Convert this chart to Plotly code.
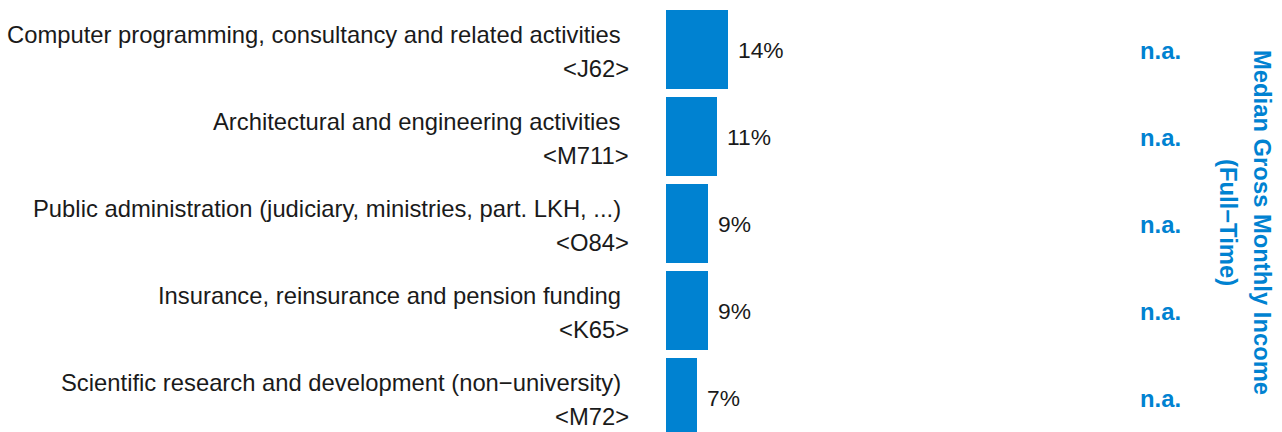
import plotly.graph_objects as go

categories = [
    "Computer programming, consultancy and related activities",
    "Architectural and engineering activities",
    "Public administration (judiciary, ministries, part. LKH, ...)",
    "Insurance, reinsurance and pension funding",
    "Scientific research and development (non\u2212university)",
]
codes = ["<J62>", "<M711>", "<O84>", "<K65>", "<M72>"]
shares = [13.8, 11.3, 9.3, 9.3, 6.9]
share_labels = ["14%", "11%", "9%", "9%", "7%"]
income_labels = ["n.a.", "n.a.", "n.a.", "n.a.", "n.a."]
income_title = ["Median Gross Monthly Income", "(Full\u2212Time)"]

BLUE = "#0082D1"
FONT = "Liberation Sans, Arial, Helvetica, sans-serif"
FS = 23.8
FSV = 22.8

W, H = 1282, 432
ML = 666
px_per_unit = 4.5
xmax = (W - ML) / px_per_unit

ycats = list(range(len(categories)))

fig = go.Figure()
fig.add_trace(go.Bar(
    x=shares, y=ycats, orientation="h",
    marker=dict(color=BLUE, line=dict(width=0)),
    width=0.908, hoverinfo="skip",
))

ann = []
for i, (cat, code, v, lab, inc) in enumerate(zip(categories, codes, shares, share_labels, income_labels)):
    ann.append(dict(x=0, y=i, xref="x", yref="y", text=cat, showarrow=False,
                    xanchor="right", yanchor="middle", xshift=-43, yshift=15,
                    font=dict(family=FONT, size=FS, color="#1a1a1a")))
    ann.append(dict(x=0, y=i, xref="x", yref="y", text=code, showarrow=False,
                    xanchor="right", yanchor="middle", xshift=-35, yshift=-19,
                    font=dict(family=FONT, size=FS, color="#1a1a1a")))
    ann.append(dict(x=v, y=i, xref="x", yref="y", text=lab, showarrow=False,
                    xanchor="left", yanchor="middle", xshift=8, yshift=0,
                    font=dict(family=FONT, size=FSV, color="#1a1a1a")))
    ann.append(dict(x=(1160 - ML) / (W - ML), y=i, xref="paper", yref="y", text="<b>" + inc + "</b>",
                    showarrow=False, xanchor="center", yanchor="middle", yshift=-1,
                    font=dict(family=FONT, size=FS, color=BLUE)))

for j, (t, xc) in enumerate(zip(income_title, [1262, 1228])):
    ann.append(dict(x=(xc - ML) / (W - ML), y=(H - 222) / H, xref="paper", yref="paper",
                    text="<b>" + t + "</b>", showarrow=False, textangle=90,
                    xanchor="center", yanchor="middle",
                    font=dict(family=FONT, size=FS, color=BLUE)))

top = -49.5 / 87
bottom = (H - 49.5) / 87
fig.update_layout(
    width=W, height=H,
    margin=dict(l=ML, r=0, t=0, b=0, pad=0),
    paper_bgcolor="white", plot_bgcolor="white",
    showlegend=False,
    xaxis=dict(range=[0, xmax], visible=False, showgrid=False, zeroline=False),
    yaxis=dict(range=[bottom, top], visible=False, showgrid=False, zeroline=False),
    annotations=ann,
    bargap=0,
)
fig.write_html("out.html", include_plotlyjs=True, config={"displayModeBar": False})
